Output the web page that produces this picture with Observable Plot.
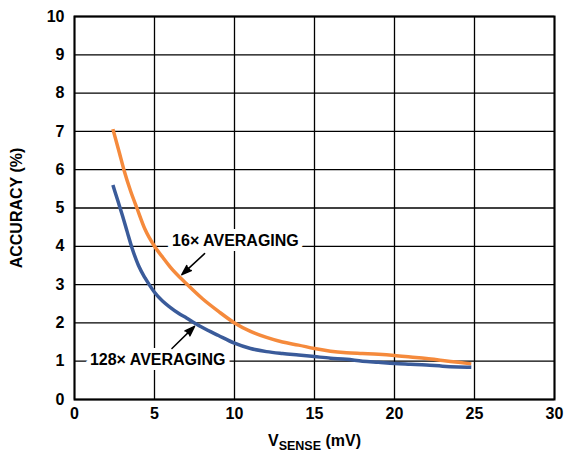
<!DOCTYPE html>
<html><head><meta charset="utf-8">
<script src="https://cdn.jsdelivr.net/npm/d3@7"></script>
<script src="https://cdn.jsdelivr.net/npm/@observablehq/plot@0.6"></script>
<style>body{margin:0;background:#fff}</style>
</head><body><div id="chart"></div>
<script>
const xTicks = [0, 5, 10, 15, 20, 25, 30];
const yTicks = [0, 1, 2, 3, 4, 5, 6, 7, 8, 9, 10];

const vsense16 = [2.4, 2.8, 3.1, 3.5, 3.9, 4.4, 5.0, 5.5, 6.0, 7.0, 8.0, 9.0, 10, 11, 12, 13, 14, 15, 16, 17, 18, 19, 20, 21, 22, 23, 24, 24.8];
const acc16 = [7.06, 6.45, 5.98, 5.45, 5.0, 4.45, 4.0, 3.72, 3.45, 3.02, 2.63, 2.3, 2.0, 1.78, 1.62, 1.5, 1.42, 1.33, 1.26, 1.22, 1.2, 1.18, 1.15, 1.11, 1.07, 1.02, 0.97, 0.93];

const vsense128 = [2.4, 2.7, 3.0, 3.3, 3.6, 4.0, 4.4, 4.7, 5.0, 5.5, 6.0, 6.5, 7.0, 7.5, 8.0, 9.0, 10, 11, 12, 13, 14, 15, 16, 17, 18, 19, 20, 21, 22, 23, 24, 24.8];
const acc128 = [5.6, 5.2, 4.8, 4.37, 3.95, 3.5, 3.18, 2.98, 2.8, 2.57, 2.4, 2.25, 2.13, 2.0, 1.88, 1.67, 1.47, 1.33, 1.25, 1.2, 1.16, 1.12, 1.08, 1.05, 1.0, 0.97, 0.94, 0.92, 0.9, 0.87, 0.85, 0.84];

const labels = ["16× AVERAGING", "128× AVERAGING"];
const labelX = [10.06, 5.2];
const labelY = [4.14, 1.04];
const arrowX1 = [8.13, 6.09];
const arrowY1 = [3.81, 1.33];
const arrowX2 = [6.71, 7.5];
const arrowY2 = [3.26, 1.91];

const s16 = vsense16.map((x, i) => ({x, y: acc16[i]}));
const s128 = vsense128.map((x, i) => ({x, y: acc128[i]}));
const arrows = arrowX1.map((x1, i) => ({x1, y1: arrowY1[i], x2: arrowX2[i], y2: arrowY2[i]}));

const font = "'Liberation Sans', Arial, Helvetica, sans-serif";

const chart = Plot.plot({
  width: 581, height: 454,
  marginLeft: 74, marginRight: 27, marginTop: 16, marginBottom: 55,
  style: {fontFamily: font, fontSize: "16px", fontWeight: "bold", color: "black", background: "white"},
  x: {domain: [0, 30]},
  y: {domain: [0, 10]},
  marks: [
    Plot.gridX(xTicks, {stroke: "black", strokeOpacity: 1, strokeWidth: 1.3}),
    Plot.gridY(yTicks, {stroke: "black", strokeOpacity: 1, strokeWidth: 1.3}),
    Plot.text(labels, {x: labelX, y: labelY, text: d => d, fill: "black", stroke: "white", strokeWidth: 10, paintOrder: "stroke", fontSize: 16, fontWeight: "bold", textAnchor: "middle"}),
    Plot.line(s16, {x: "x", y: "y", stroke: "#F58A3C", strokeWidth: 3.5, curve: "monotone-x", strokeLinecap: "butt"}),
    Plot.line(s128, {x: "x", y: "y", stroke: "#3A5B9A", strokeWidth: 3.5, curve: "monotone-x", strokeLinecap: "butt"}),
    Plot.arrow(arrows, {x1: "x1", y1: "y1", x2: "x2", y2: "y2", stroke: "black", fill: "black", strokeWidth: 1.5, headLength: 14, headAngle: 38, strokeLinejoin: "miter"}),
    Plot.frame({stroke: "black", strokeWidth: 2}),
    Plot.axisX({ticks: xTicks, tickSize: 0, tickPadding: 8, label: "VSENSE (mV)", labelAnchor: "center", labelOffset: 46, labelArrow: false}),
    Plot.axisY({ticks: yTicks, tickSize: 0, tickPadding: 10, label: "ACCURACY (%)", labelAnchor: "center", labelOffset: 64, labelArrow: false})
  ]
});

document.getElementById("chart").appendChild(chart);

// subscript for V_SENSE
const lab = d3.select(chart).select('g[aria-label="x-axis label"] text');
if (!lab.empty()) {
  lab.text(null);
  lab.append("tspan").text("V");
  lab.append("tspan").attr("dy", "4").attr("font-size", "12.5px").text("SENSE");
  lab.append("tspan").attr("dy", "-4").text(" (mV)");
}
</script>
</body></html>
